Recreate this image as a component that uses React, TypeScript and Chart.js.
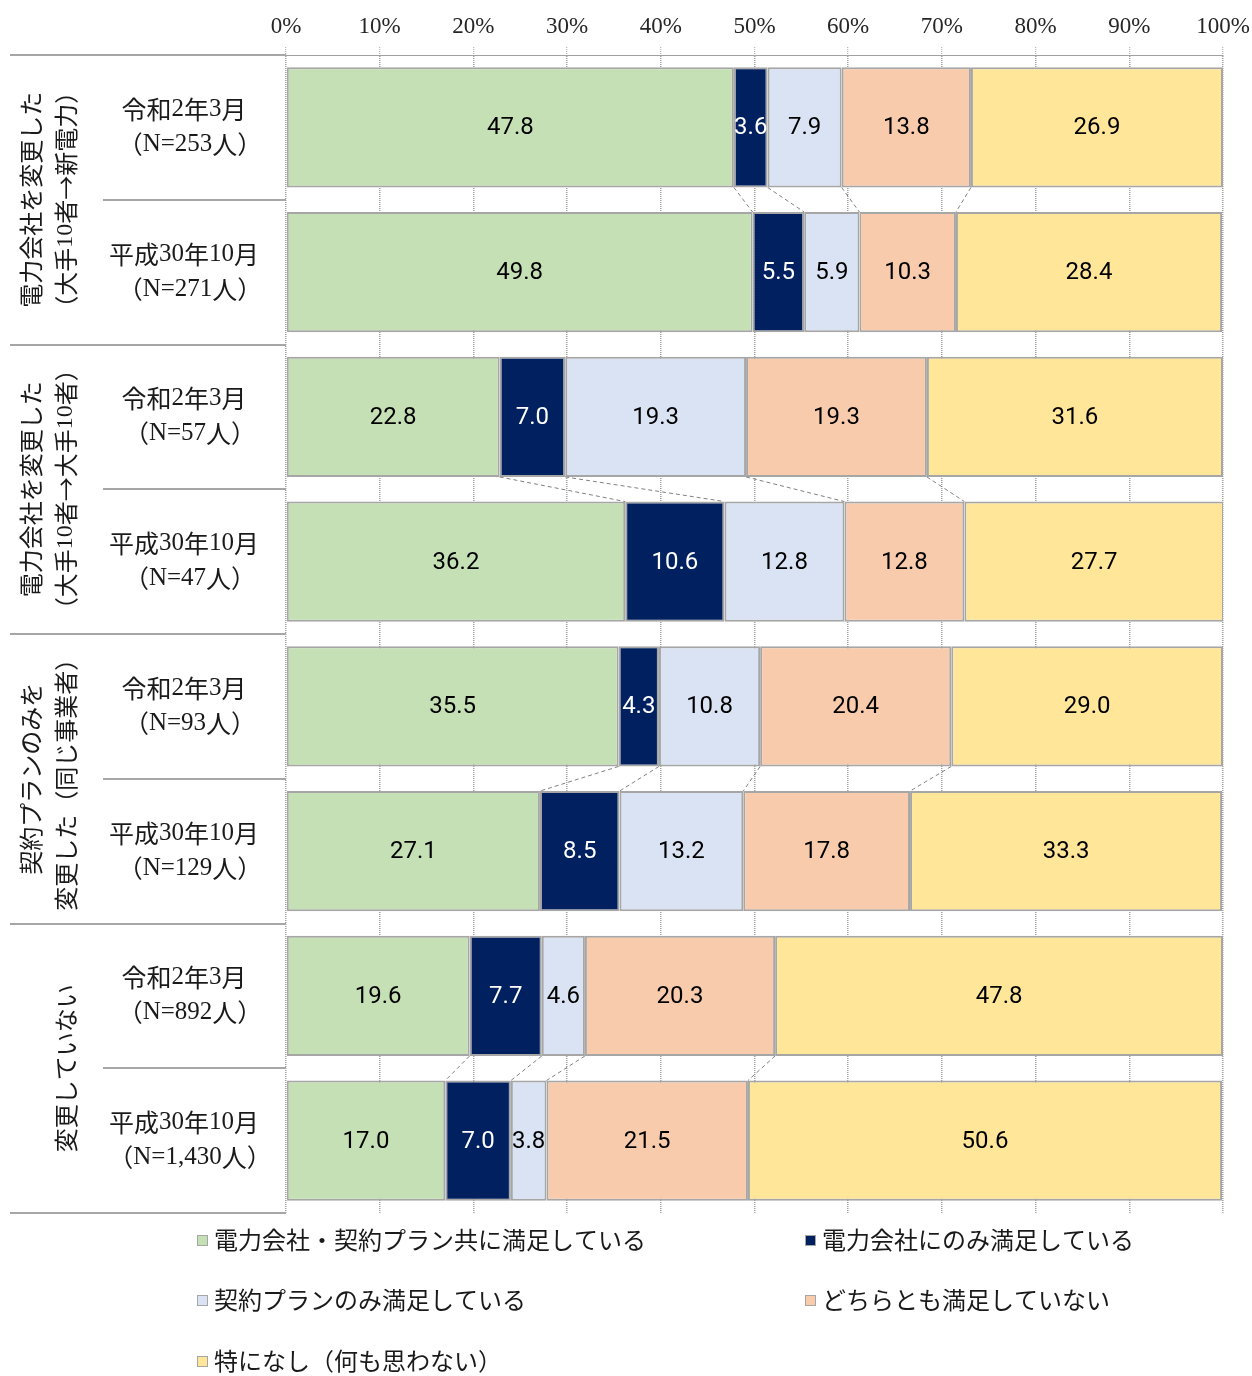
import React, { useEffect, useRef } from 'react';
import { Chart, registerables } from 'chart.js';

Chart.register(...registerables);

const rowPeriods = ['令和2年3月', '平成30年10月', '令和2年3月', '平成30年10月', '令和2年3月', '平成30年10月', '令和2年3月', '平成30年10月'];
const rowCounts = ['（N=253人）', '（N=271人）', '（N=57人）', '（N=47人）', '（N=93人）', '（N=129人）', '（N=892人）', '（N=1,430人）'];
const groupLabels: string[][] = [
  ['電力会社を変更した', '（大手10者→新電力）'],
  ['電力会社を変更した', '（大手10者→大手10者）'],
  ['契約プランのみを', '変更した（同じ事業者）'],
  ['変更していない'],
];

const seriesNames = ['電力会社・契約プラン共に満足している', '電力会社にのみ満足している', '契約プランのみ満足している', 'どちらとも満足していない', '特になし（何も思わない）'];
const bothSatisfied = [47.8, 49.8, 22.8, 36.2, 35.5, 27.1, 19.6, 17.0];
const companyOnly = [3.6, 5.5, 7.0, 10.6, 4.3, 8.5, 7.7, 7.0];
const planOnly = [7.9, 5.9, 19.3, 12.8, 10.8, 13.2, 4.6, 3.8];
const neither = [13.8, 10.3, 19.3, 12.8, 20.4, 17.8, 20.3, 21.5];
const nothingInParticular = [26.9, 28.4, 31.6, 27.7, 29.0, 33.3, 47.8, 50.6];
const seriesColors = ['#C5E0B4', '#002060', '#DAE3F3', '#F8CBAD', '#FFE699'];
const xTicks = [0, 10, 20, 30, 40, 50, 60, 70, 80, 90, 100];

const SERIF = '"Liberation Serif", serif';
const CJK = '"Noto Sans CJK JP", sans-serif';
const LABEL_FONT = 'Roboto, "Liberation Sans", sans-serif';

// draw text with ASCII runs in serif and others in CJK font, centred at x
function drawMixed(ctx: CanvasRenderingContext2D, text: string, x: number, y: number, size: number) {
  const runs: { t: string; f: string }[] = [];
  for (const ch of text) {
    const f = /[0-9A-Za-z=,.]/.test(ch) ? `${size}px ${SERIF}` : `${size}px ${CJK}`;
    if (runs.length && runs[runs.length - 1].f === f) runs[runs.length - 1].t += ch;
    else runs.push({ t: ch, f });
  }
  let total = 0;
  const widths = runs.map((r) => {
    ctx.font = r.f;
    const w = ctx.measureText(r.t).width;
    total += w;
    return w;
  });
  let cx = x - total / 2;
  ctx.textAlign = 'left';
  runs.forEach((r, i) => {
    ctx.font = r.f;
    ctx.fillText(r.t, cx, y);
    cx += widths[i];
  });
}

const overlayPlugin = {
  id: 'overlay',
  afterDatasetsDraw(chart: any) {
    const ctx = chart.ctx as CanvasRenderingContext2D;
    const area = chart.chartArea;
    const xs = chart.scales.x;
    const n = rowPeriods.length;
    const band = (area.bottom - area.top) / n;
    const all = chart.data.datasets.map((d: any) => d.data as number[]);

    // connectors
    ctx.save();
    ctx.strokeStyle = '#808080';
    ctx.lineWidth = 1;
    ctx.setLineDash([4, 3]);
    for (let g = 0; g < n; g += 2) {
      const metaA = chart.getDatasetMeta(0).data[g];
      const metaB = chart.getDatasetMeta(0).data[g + 1];
      const bottomA = metaA.y + metaA.height / 2;
      const topB = metaB.y - metaB.height / 2;
      let cumA = 0;
      let cumB = 0;
      for (let k = 0; k < all.length - 1; k++) {
        cumA += all[k][g];
        cumB += all[k][g + 1];
        ctx.beginPath();
        ctx.moveTo(xs.getPixelForValue(cumA), bottomA);
        ctx.lineTo(xs.getPixelForValue(cumB), topB);
        ctx.stroke();
      }
    }
    ctx.restore();

    // data labels
    ctx.save();
    ctx.font = `24px ${LABEL_FONT}`;
    ctx.textAlign = 'center';
    ctx.textBaseline = 'middle';
    chart.data.datasets.forEach((ds: any, di: number) => {
      const meta = chart.getDatasetMeta(di);
      meta.data.forEach((el: any, i: number) => {
        const v = ds.data[i];
        const cx = (el.x + el.base) / 2;
        ctx.fillStyle = di === 1 ? '#FFFFFF' : '#000000';
        ctx.fillText(v.toFixed(1), cx, el.y + 1);
      });
    });
    ctx.restore();

    // left table lines
    ctx.save();
    ctx.strokeStyle = '#A6A6A6';
    ctx.lineWidth = 2;
    for (let k = 0; k <= n; k++) {
      const y = Math.round(area.top + k * band);
      ctx.beginPath();
      ctx.moveTo(k % 2 === 0 ? 10 : 103, y);
      ctx.lineTo(area.left, y);
      ctx.stroke();
    }
    ctx.restore();

    // row labels
    ctx.save();
    ctx.fillStyle = '#1a1a1a';
    ctx.textBaseline = 'middle';
    for (let i = 0; i < n; i++) {
      const cy = area.top + band * (i + 0.5);
      drawMixed(ctx, rowPeriods[i], 184, cy - 18, 25);
      drawMixed(ctx, rowCounts[i], 190, cy + 17, 25);
    }
    ctx.restore();

    // group labels (rotated)
    ctx.save();
    ctx.fillStyle = '#1a1a1a';
    ctx.textBaseline = 'middle';
    groupLabels.forEach((lines, g) => {
      const cy = area.top + band * (g * 2 + 1);
      const xPos = lines.length === 2 ? [31, 66] : [66];
      lines.forEach((t, li) => {
        ctx.save();
        ctx.translate(xPos[li], cy);
        ctx.rotate(-Math.PI / 2);
        drawMixed(ctx, t, 0, 0, 24);
        ctx.restore();
      });
    });
    ctx.restore();

    // legend
    ctx.save();
    const pos = [[197, 1240], [805, 1240], [197, 1300], [805, 1300], [197, 1361]];
    ctx.textBaseline = 'middle';
    ctx.textAlign = 'left';
    ctx.font = `24px ${CJK}`;
    seriesNames.forEach((name, i) => {
      const [lx, ly] = pos[i];
      ctx.fillStyle = seriesColors[i];
      ctx.fillRect(lx, ly - 5, 11, 11);
      ctx.strokeStyle = '#A6A6A6';
      ctx.lineWidth = 1;
      ctx.strokeRect(lx + 0.5, ly - 4.5, 10, 10);
      ctx.fillStyle = '#1a1a1a';
      ctx.fillText(name, lx + 17, ly);
    });
    ctx.restore();
  },
};

export default function App() {
  const ref = useRef<HTMLCanvasElement | null>(null);
  useEffect(() => {
    if (!ref.current) return;
    const values = [bothSatisfied, companyOnly, planOnly, neither, nothingInParticular];
    const chart = new Chart(ref.current, {
      type: 'bar',
      data: {
        labels: rowPeriods.map((p, i) => `${p}${rowCounts[i]}`),
        datasets: values.map((d, i) => ({
          label: seriesNames[i],
          data: d,
          backgroundColor: seriesColors[i],
          borderColor: '#A6A6A6',
          borderWidth: 2,
          borderSkipped: false,
          categoryPercentage: 1,
          barPercentage: 0.83,
        })),
      },
      options: {
        indexAxis: 'y',
        responsive: false,
        animation: false,
        devicePixelRatio: 1,
        layout: { padding: { left: 286, right: 29, top: 15, bottom: 163 } },
        plugins: { legend: { display: false }, tooltip: { enabled: false } },
        scales: {
          x: {
            position: 'top',
            stacked: true,
            min: 0,
            max: 100,
            afterFit: (axis: any) => {
              axis.height = 40;
              axis.paddingLeft = 0;
              axis.paddingRight = 0;
            },
            afterBuildTicks: (axis: any) => {
              axis.ticks = xTicks.map((v) => ({ value: v }));
            },
            ticks: {
              callback: (v: any) => `${v}%`,
              font: { family: SERIF, size: 23 },
              color: '#262626',
              padding: 6,
              maxRotation: 0,
            },
            grid: {
              color: '#A0A0A0',
              lineWidth: 1.5,
              drawTicks: true,
              tickLength: 8,
              tickColor: '#A0A0A0',
              tickBorderDash: [1, 1],
              tickWidth: 1,
            },
            border: { display: true, color: '#A0A0A0', dash: [1, 1], width: 1 },
          },
          y: {
            stacked: true,
            display: false,
          },
        },
      },
      plugins: [overlayPlugin],
    } as any);
    return () => chart.destroy();
  }, []);
  return (
    <div style={{ position: 'absolute', left: 0, top: 0, width: 1252, height: 1376, background: '#fff' }}>
      <canvas ref={ref} width={1252} height={1376} style={{ display: 'block' }} />
    </div>
  );
}
